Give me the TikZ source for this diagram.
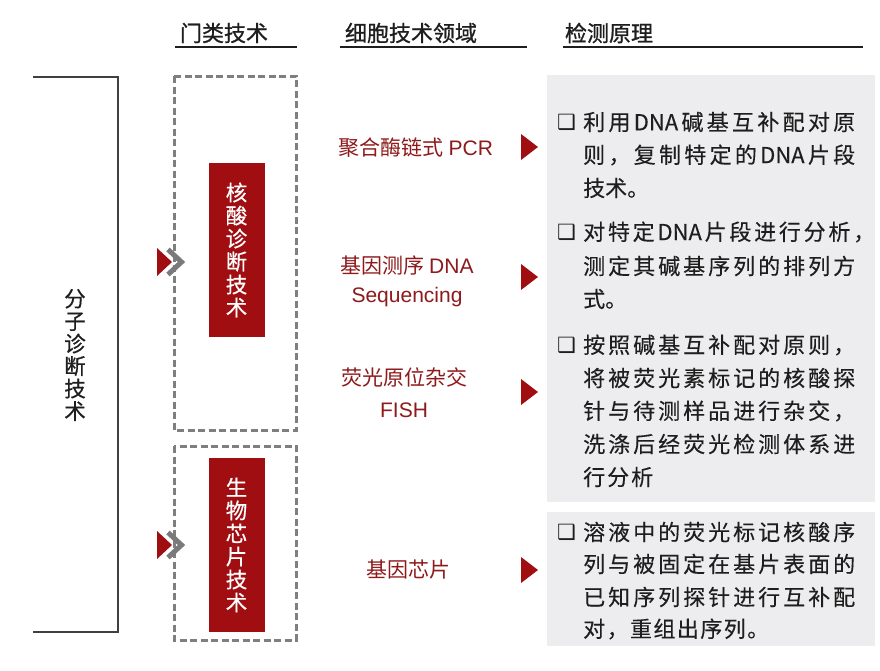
\documentclass[tikz,border=0pt]{standalone}
\usepackage{fontspec}
\setmainfont{Noto Sans CJK SC}
\newfontfamily\hdrf[FakeBold=0.9]{Noto Sans CJK SC}
\newfontfamily\medf[FakeBold=0.5]{Noto Sans CJK SC}
\newfontfamily\bodyf[FakeBold=0.25]{Noto Sans CJK SC}
\newfontfamily\latf{Liberation Sans}
\newfontfamily\symf{DejaVu Sans}
\definecolor{boxred}{HTML}{A00E12}
\definecolor{txtred}{HTML}{8E1A1C}
\definecolor{panel}{HTML}{EDEDEF}
\definecolor{ink}{HTML}{1E1E1E}
\definecolor{chev}{HTML}{7A7A7A}
\definecolor{dashc}{HTML}{7F7F7F}
% justify a line of characters to a given width
\def\spreadfirst#1{#1\spreadrest}
\def\spreadrest#1{\ifx\relax#1\else\hfill#1\expandafter\spreadrest\fi}
\newcommand\jline[2]{\makebox[#1][s]{\spreadfirst#2\relax}}
\begin{document}
\begin{tikzpicture}[x=1pt,y=-1pt,
  hdr/.style={font=\hdrf\fontsize{22}{24}\selectfont, text=ink, inner sep=0},
  uline/.style={line width=2.4pt, draw=ink},
  redbox/.style={fill=boxred, minimum width=56pt, inner sep=0, text=white, align=center, font=\medf\fontsize{21.5}{23}\selectfont},
  dbox/.style={draw=dashc, dash pattern=on 7pt off 3.5pt, line width=3pt},
  tech/.style={text=txtred, font=\fontsize{21}{24}\selectfont, inner sep=0},
  tri/.style={fill=boxred},
  panelbox/.style={fill=panel},
  body/.style={anchor=west, inner sep=0, text=ink, font=\bodyf\fontsize{22}{24}\selectfont},
  bul/.style={inner sep=0, font=\symf\fontsize{21}{21}\selectfont, text=ink},
  vtxt/.style={inner sep=0, text=ink, align=center, font=\medf\fontsize{21.5}{22.5}\selectfont},
]
\useasboundingbox (0,0) rectangle (880,670);
\fill[white] (0,0) rectangle (880,670);

% headers
\node[hdr] (h1) at (224,33) {门类技术};
\node[hdr] (h2) at (411,33) {细胞技术领域};
\node[hdr] (h3) at (609,33) {检测原理};
\coordinate (u1a) at (175,47); \coordinate (u1b) at (297,47);
\coordinate (u2a) at (340,47); \coordinate (u2b) at (527,47);
\coordinate (u3a) at (563,47); \coordinate (u3b) at (863,47);
\draw[uline] (u1a) -- (u1b);
\draw[uline] (u2a) -- (u2b);
\draw[uline] (u3a) -- (u3b);

% left bracket
\coordinate (b1) at (33,77); \coordinate (b2) at (118,632); \coordinate (b3) at (33,632);
\draw[line width=1.8pt, draw=ink!85] (b1) -| (b2) -- (b3);
\node[vtxt] (mol) at (75,355) {分\\子\\诊\\断\\技\\术};

% dashed boxes
\draw[dbox] (174,76) rectangle (296,430);
\draw[dbox] (174,446) rectangle (296,640);

% red boxes
\node[redbox, minimum height=174pt] (nuc) at (236.5,250) {核\\酸\\诊\\断\\技\\术};
\node[redbox, minimum height=174pt] (chip) at (236.5,545) {生\\物\\芯\\片\\技\\术};

% chevrons
\fill[tri] (157,248) -- (172,262) -- (157,276) -- cycle;
\draw[chev, line width=5pt, miter limit=10] (168,249.5) -- (181.5,262) -- (168,274.5);
\fill[tri] (157,531) -- (172,545) -- (157,559) -- cycle;
\draw[chev, line width=5pt, miter limit=10] (168,532.5) -- (181.5,545) -- (168,557.5);

% technique labels
\node[tech] (t1) at (416,148) {聚合酶链式 {\latf PCR}};
\node[tech] (t2a) at (407,265) {基因测序 {\latf DNA}};
\node[tech] (t2b) at (407,297) {\latf Sequencing};
\node[tech] (t3a) at (404,377) {荧光原位杂交};
\node[tech] (t3b) at (404,410) {\latf FISH};
\node[tech] (t4) at (408,570) {基因芯片};

% small triangles
\fill[tri] (521,134) -- (538,147) -- (521,160) -- cycle;
\fill[tri] (521,264) -- (538,277) -- (521,290) -- cycle;
\fill[tri] (521,379) -- (538,392) -- (521,405) -- cycle;
\fill[tri] (521,557) -- (538,570) -- (521,583) -- cycle;

% panels
\fill[panelbox] (547,75) rectangle (875,502);
\fill[panelbox] (547,512) rectangle (875,646);

% bullets
\node[bul] (k1) at (566.5,122) {❑};
\node[bul] (k2) at (566.5,232) {❑};
\node[bul] (k3) at (566.5,345) {❑};
\node[bul] (k4) at (566.5,532) {❑};

% paragraph 1
\node[body] (p1a) at (583,122) {\jline{272pt}{利用{DNA}碱基互补配对原}};
\node[body] (p1b) at (583,155) {\jline{272pt}{则，复制特定的{DNA}片段}};
\node[body] (p1c) at (583,188) {技术。};
% paragraph 2
\node[body] (p2a) at (583,232) {\jline{292pt}{对特定{DNA}片段进行分析，}};
\node[body] (p2b) at (583,266) {\jline{272pt}{测定其碱基序列的排列方}};
\node[body] (p2c) at (583,299) {式。};
% paragraph 3
\node[body] (p3a) at (583,345) {\jline{272pt}{按照碱基互补配对原则，}};
\node[body] (p3b) at (583,378) {\jline{272pt}{将被荧光素标记的核酸探}};
\node[body] (p3c) at (583,411) {\jline{272pt}{针与待测样品进行杂交，}};
\node[body] (p3d) at (583,444) {\jline{272pt}{洗涤后经荧光检测体系进}};
\node[body] (p3e) at (583,477) {\jline{70pt}{行分析}};
% paragraph 4
\node[body] (p4a) at (583,532) {\jline{272pt}{溶液中的荧光标记核酸序}};
\node[body] (p4b) at (583,564) {\jline{272pt}{列与被固定在基片表面的}};
\node[body] (p4c) at (583,597) {\jline{272pt}{已知序列探针进行互补配}};
\node[body] (p4d) at (583,629) {\jline{186pt}{对，重组出序列。}};
\end{tikzpicture}
\end{document}
